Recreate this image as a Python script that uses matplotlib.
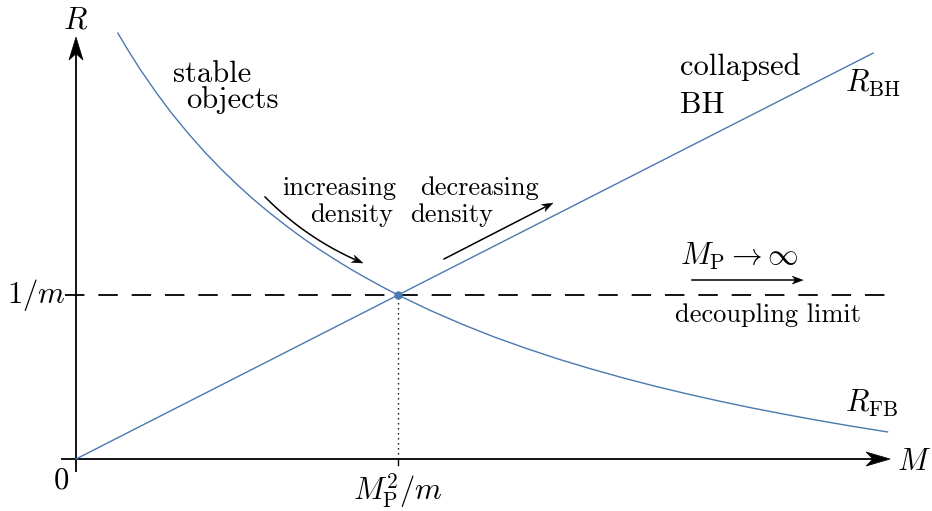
import numpy as np
import matplotlib
matplotlib.use("Agg")
import matplotlib.pyplot as plt
from matplotlib.patches import Polygon

plt.rcParams['font.family'] = 'cmr10'
plt.rcParams['mathtext.fontset'] = 'cm'
plt.rcParams['axes.formatter.use_mathtext'] = True
plt.rcParams['lines.scale_dashes'] = False

# mass M in units of M_P^2/m, radius R in units of 1/m
mass_fb = [0.13, 0.16, 0.20, 0.25, 0.30, 0.35, 0.40, 0.45, 0.50, 0.55, 0.60, 0.65,
           0.70, 0.75, 0.80, 0.85, 0.90, 0.95, 1.00, 1.10, 1.20, 1.30, 1.40, 1.50,
           1.60, 1.70, 1.80, 1.90, 2.00, 2.10, 2.20, 2.30, 2.40, 2.52]
radius_fb = [2.597, 2.498, 2.374, 2.232, 2.101, 1.982, 1.871, 1.769, 1.674, 1.585,
             1.503, 1.426, 1.353, 1.285, 1.222, 1.161, 1.105, 1.051, 1.000, 0.906,
             0.821, 0.743, 0.673, 0.608, 0.549, 0.494, 0.443, 0.396, 0.352, 0.311,
             0.273, 0.237, 0.203, 0.165]
mass_bh = [0.0, 2.475]
radius_bh = [0.0, 2.475]
m_cross, r_cross = 1.0, 1.0
decoupling_end = 2.519

blue = '#4a78b0'
PX_X, PX_Y = 322.0, 164.0   # pixels per unit along M and R

fig = plt.figure(figsize=(9.32, 5.11), dpi=100)
ax = fig.add_axes([0, 0, 1, 1])
ax.set_xlim(-0.236, 2.658)
ax.set_ylim(-0.317, 2.799)
ax.axis('off')


def stealth(tip, direction, length=24, half=7, lw=0.5):
    # concave arrow head, sizes in pixels
    d = np.array(direction, float) * np.array([PX_X, PX_Y])
    d /= np.hypot(*d)
    n = np.array([-d[1], d[0]])
    sc = np.array([1 / PX_X, 1 / PX_Y])
    tip = np.array(tip, float)
    pts = [tip,
           tip + (-length * d + half * n) * sc,
           tip + (-0.72 * length * d) * sc,
           tip + (-length * d - half * n) * sc]
    ax.add_patch(Polygon(pts, closed=True, fc='black', ec='black', lw=lw, zorder=5))


def arrow(start, end, rad=0.0):
    # shaft as a quadratic curve, head drawn separately
    p0 = np.array(start) * [PX_X, PX_Y]
    p2 = np.array(end) * [PX_X, PX_Y]
    mid = (p0 + p2) / 2
    dx, dy = p2 - p0
    p1 = mid + rad * np.array([dy, -dx])
    t = np.linspace(0, 1, 40)[:, None]
    pts = (1 - t) ** 2 * p0 + 2 * (1 - t) * t * p1 + t ** 2 * p2
    pts = pts / [PX_X, PX_Y]
    ax.plot(pts[:-3, 0], pts[:-3, 1], color='black', lw=1.1)
    stealth(end, (p2 - p1) / [PX_X, PX_Y], length=11, half=4, lw=0.3)


# axes
ax.plot([-0.048, 2.50], [0, 0], color='black', lw=1.3, solid_capstyle='butt')
ax.plot([0, 0], [-0.077, 2.54], color='black', lw=1.3, solid_capstyle='butt')
stealth((2.528, 0.0), (1, 0))
stealth((0.0, 2.573), (0, 1), length=23, half=7)
ax.plot([m_cross, m_cross], [0, -0.037], color='black', lw=1.0)

# decoupling level and guide to M_P^2/m
ax.plot([-0.034, decoupling_end], [r_cross, r_cross], color='black', lw=1.3,
        dashes=(14.0, 10.0))
ax.plot([m_cross, m_cross], [0, r_cross], color='black', lw=1.0, dashes=(1.0, 2.6))

# the two branches
ax.plot(mass_fb, radius_fb, color=blue, lw=1.0, solid_joinstyle='round')
ax.plot(mass_bh, radius_bh, color=blue, lw=1.0)
ax.plot([m_cross], [r_cross], 'o', color=blue, ms=5, zorder=6)

arrow((0.587, 1.598), (0.891, 1.195), rad=0.1)
arrow((1.143, 1.220), (1.481, 1.561))
arrow((1.913, 1.091), (2.258, 1.091))

# labels
big, mid = 22, 19
ax.text(0, 2.628, r'$R$', fontsize=big, ha='center', va='baseline')
ax.text(2.550, -0.067, r'$M$', fontsize=big, ha='left', va='baseline')
ax.text(-0.045, -0.177, r'$0$', fontsize=big, ha='center', va='baseline')
ax.text(-0.034, 0.951, r'$1/m$', fontsize=big, ha='right', va='baseline')
ax.text(m_cross, -0.25, r'$M_{\mathrm{P}}^2/m$', fontsize=big, ha='center', va='baseline')
ax.text(2.388, 2.238, r'$R_{\mathrm{BH}}$', fontsize=big, ha='left', va='baseline')
ax.text(2.388, 0.287, r'$R_{\mathrm{FB}}$', fontsize=big, ha='left', va='baseline')
ax.text(1.876, 1.183, r'$M_{\mathrm{P}} \to \infty$', fontsize=big, ha='left', va='baseline')

ax.text(0.301, 2.300, 'stable', fontsize=big, ha='left', va='baseline')
ax.text(0.342, 2.140, 'objects', fontsize=big, ha='left', va='baseline')
ax.text(1.876, 2.341, 'collapsed', fontsize=big, ha='left', va='baseline')
ax.text(1.876, 2.110, 'BH', fontsize=big, ha='left', va='baseline')
ax.text(0.640, 1.610, 'increasing', fontsize=mid, ha='left', va='baseline')
ax.text(0.727, 1.445, 'density', fontsize=mid, ha='left', va='baseline')
ax.text(1.068, 1.610, 'decreasing', fontsize=mid, ha='left', va='baseline')
ax.text(1.037, 1.445, 'density', fontsize=mid, ha='left', va='baseline')
ax.text(1.860, 0.835, 'decoupling limit', fontsize=mid, ha='left', va='baseline')

fig.savefig('out.png', dpi=100)
